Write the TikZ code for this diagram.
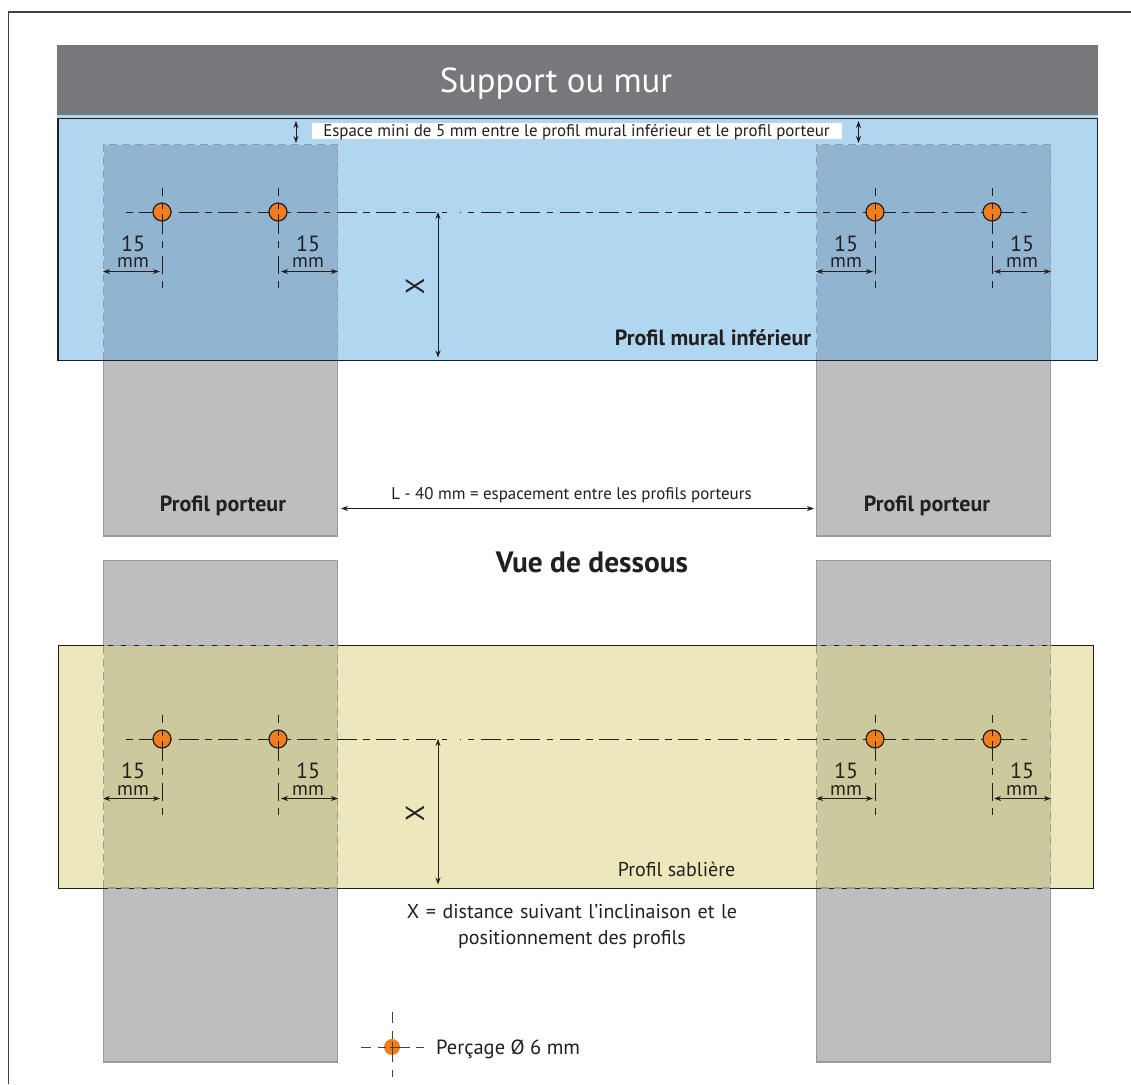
\documentclass[tikz,border=0pt]{standalone}
\usepackage{fontspec}
\setmainfont{PT Sans}
\usetikzlibrary{arrows.meta}
\definecolor{barG}{HTML}{77787B}
\definecolor{stripB}{HTML}{B1D6F0}
\definecolor{overB}{HTML}{91B5D1}
\definecolor{wallY}{HTML}{EDE8BC}
\definecolor{overY}{HTML}{CCC99D}
\definecolor{carG}{HTML}{BDBEC0}
\definecolor{carL}{HTML}{999A9C}
\definecolor{ink}{HTML}{231F20}
\definecolor{drill}{HTML}{F07D1E}
\tikzset{
  x=1pt,y=-1pt,
  carrier/.style={fill=carG,draw=carL,line width=1.5pt},
  overlap/.style={draw=carL,line width=1.8pt,dash pattern=on 8pt off 5pt},
  outline/.style={draw=ink,line width=1.3pt},
  thinoutline/.style={draw=ink,line width=1pt},
  centerh/.style={draw=ink,line width=1pt,dash pattern=on 20pt off 6.5pt on 6.5pt off 6.5pt},
  centerv/.style={draw=ink,line width=1pt,dash pattern=on 8pt off 7pt on 6pt off 5pt on 20pt off 7pt on 7pt off 8pt on 18pt off 7pt on 7pt},
  hole/.style={circle,draw=ink,line width=1.2pt,fill=drill,minimum size=18pt,inner sep=0pt},
  dimline/.style={draw=ink,line width=.8pt,{Stealth[length=7pt,width=5pt]}-{Stealth[length=7pt,width=5pt]}},
  numtxt/.style={font=\fontsize{22}{22}\selectfont,text=ink,inner sep=0pt},
  unittxt/.style={font=\fontsize{19.5}{19.5}\selectfont,text=ink,inner sep=0pt},
  lab/.style={text=ink,inner sep=0pt},
}
% one row of four holes, with its centre lines and 15 mm dimensions
\newcommand{\holerow}[1]{%
  \draw[centerh,dash phase=26.5pt] (126,212) -- (447,212);
  \draw[centerh,dash phase=19pt] (460,212) -- (1028,212);
  \foreach \n/\hx in {a/162,b/278,c/875,d/992}{
    \node[hole] (#1\n) at (\hx,212) {};
    \draw[centerv] (\hx,188) -- (\hx,289);
  }
  \coordinate (#1la) at (103,271.5); \coordinate (#1lb) at (160,271.5);
  \coordinate (#1ra) at (281,271.5); \coordinate (#1rb) at (338,271.5);
  \coordinate (#1sa) at (816,271.5); \coordinate (#1sb) at (873,271.5);
  \coordinate (#1ta) at (994,271.5); \coordinate (#1tb) at (1051,271.5);
  \draw[dimline] (#1la) -- (#1lb);
  \draw[dimline] (#1ra) -- (#1rb);
  \draw[dimline] (#1sa) -- (#1sb);
  \draw[dimline] (#1ta) -- (#1tb);
  \foreach \n/\tx in {e/133,f/308,g/846,h/1022}{
    \node[numtxt] (#1\n n) at (\tx,243.5) {15};
    \node[unittxt] (#1\n u) at (\tx,263) {mm};
  }
  \coordinate (#1xa) at (438,212); \coordinate (#1xb) at (438,357.5);
  \draw[dimline] (#1xa) -- (#1xb);
  \node[lab,rotate=90,font=\fontsize{26}{26}\selectfont] (#1x) at (415,286) {X};
}
\begin{document}
\begin{tikzpicture}
\useasboundingbox (0,0) rectangle (1131,1084);
\fill[white] (0,0) rectangle (1131,1084);
% outer frame
\coordinate (fa) at (8.5,1084); \coordinate (fb) at (8.5,12); \coordinate (fc) at (1131,12);
\draw[draw=ink!85,line width=1.7pt] (fa) -- (fb) -- (fc);
% top view
\fill[stripB] (57,115) rectangle (1098,119);
\node[fill=barG,minimum width=1041pt,minimum height=70pt,inner sep=0pt,anchor=north west] (wall) at (57,45) {};
\node[text=white,inner sep=0pt,font=\fontsize{34.7}{35}\selectfont] (walltxt) at (556,83.5) {Support ou mur};
\draw[carrier] (103.5,360) rectangle (337.5,536);
\draw[carrier] (816.5,360) rectangle (1050.5,536);
\draw[outline,fill=stripB] (58,118.5) rectangle (1097.5,360.5);
\fill[overB] (103.5,144.5) rectangle (337.5,360);
\fill[overB] (816.5,144.5) rectangle (1050.5,360);
\draw[overlap] (103.5,360) -- (103.5,144.5) -- (337.5,144.5) -- (337.5,360);
\draw[overlap] (816.5,360) -- (816.5,144.5) -- (1050.5,144.5) -- (1050.5,360);
\node[fill=white,minimum width=530pt,minimum height=16pt,inner sep=0pt] (gap) at (577,131) {};
\node[lab,font=\fontsize{16.9}{17}\selectfont] (gaptxt) at (576.5,132.5) {Espace mini de 5 mm entre le profil mural inférieur et le profil porteur};
\coordinate (ga) at (296,121); \coordinate (gb) at (296,143);
\coordinate (gc) at (858.5,121); \coordinate (gd) at (858.5,143);
\draw[dimline] (ga) -- (gb);
\draw[dimline] (gc) -- (gd);
\holerow{t}
\node[lab,font=\bfseries\fontsize{22}{22}\selectfont] (mural) at (713,338) {Profil mural inférieur};
\node[lab,font=\bfseries\fontsize{22}{22}\selectfont] (pa) at (223,505.5) {Profil porteur};
\node[lab,font=\bfseries\fontsize{22}{22}\selectfont] (pb) at (927,505.5) {Profil porteur};
\coordinate (la) at (341,508.5); \coordinate (lb) at (814,508.5);
\draw[dimline] (la) -- (lb);
\node[lab,font=\fontsize{16.9}{17}\selectfont] (espace) at (571.5,495.5) {L - 40 mm = espacement entre les profils porteurs};
\node[lab,font=\bfseries\fontsize{29.4}{30}\selectfont] (vue) at (592,562) {Vue de dessous};
% bottom view
\draw[carrier] (103.5,560.5) rectangle (337.5,1062);
\draw[carrier] (816.5,560.5) rectangle (1050.5,1062);
\draw[thinoutline,fill=wallY] (58,645.5) rectangle (1093.5,888);
\fill[overY] (103.5,645.5) rectangle (337.5,888);
\fill[overY] (816.5,645.5) rectangle (1050.5,888);
\draw[overlap] (103.5,645.5) rectangle (337.5,888);
\draw[overlap] (816.5,645.5) rectangle (1050.5,888);
\begin{scope}[yshift=-527pt]
\holerow{u}
\end{scope}
\node[lab,font=\fontsize{20}{20}\selectfont] (sab) at (676.5,869.5) {Profil sablière};
\node[lab,align=center,font=\fontsize{20}{26.5}\selectfont] (xnote) at (572,926.5) {{\spaceskip=6.6pt X = distance suivant l’inclinaison et le}\\positionnement des profils};
% legend
\fill[drill] (392,1047) circle (8);
\coordinate (lha) at (361,1047.5); \coordinate (lhb) at (425,1047.5);
\coordinate (lva) at (392,1012); \coordinate (lvb) at (392,1077);
\draw[draw=ink!85,line width=1pt,dash pattern=on 10pt off 7pt on 8pt off 4pt on 20pt off 6pt on 8pt] (lha) -- (lhb);
\draw[draw=ink!85,line width=1pt,dash pattern=on 11pt off 8pt on 8pt off 3pt on 20pt off 8pt on 7pt] (lva) -- (lvb);
\node[lab,anchor=west,font=\fontsize{20.5}{21}\selectfont] (perc) at (436,1049) {Perçage Ø 6 mm};
\end{tikzpicture}
\end{document}
